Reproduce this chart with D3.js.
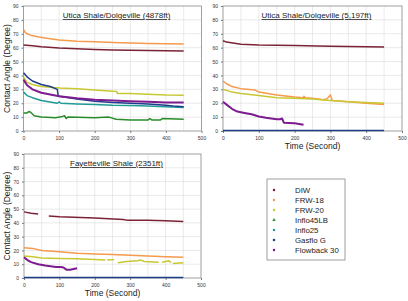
<!DOCTYPE html>
<html>
<head>
<meta charset="utf-8">
<script src="https://cdn.jsdelivr.net/npm/d3@7"></script>
<style>
body{margin:0;background:#fff;}
svg{display:block;font-family:"Liberation Sans",Arial,sans-serif;}
</style>
</head>
<body>
<svg id="chart" width="408" height="301"></svg>
<script>
// series names and colors
var seriesNames = ["DIW", "FRW-18", "FRW-20", "Inflo45LB", "Inflo25", "Gasflo G", "Flowback 30"];
var seriesColors = ["#7b2335", "#f59a4e", "#c8c832", "#2a8c2a", "#1f9a96", "#1f3d8c", "#7d1c8f"];
var seriesShapes = ["circle", "circle", "circle", "triangle", "square", "square", "circle"];

var xTicks = [0, 100, 200, 300, 400, 500];
var yTicks = [0, 10, 20, 30, 40, 50, 60, 70, 80, 90];

// [time, angle], null = gap
var utica4878 = {
	"DIW": [[0,62],[25,61.3],[50,60.7],[100,59.8],[150,59.2],[200,58.7],[250,58.4],[300,58.2],[350,58],[400,57.8],[450,57.6]],
	"FRW-18": [[0,73],[5,71],[10,70],[20,69],[40,67.8],[60,67],[100,65.5],[150,64.6],[200,64.3],[250,63.8],[300,63.3],[350,63],[400,62.8],[450,62.6]],
	"FRW-20": [[0,39],[10,35],[25,33.5],[50,32],[100,31],[150,30.5],[200,29.5],[262,28.5],[264,27],[300,27],[350,26.5],[400,26],[450,25.8]],
	"Inflo45LB": [[0,13],[10,13],[15,14],[20,13.5],[30,11],[50,10],[90,9.5],[110,10.5],[115,11],[120,9],[125,10],[200,9.5],[240,10],[260,8.5],[300,8],[350,8],[355,9],[360,8],[385,8],[390,9],[450,8.5]],
	"Inflo25": [[0,28],[10,25.5],[25,24],[50,22],[95,20],[100,21],[105,20],[150,19.5],[200,19],[250,18.5],[300,18.3],[350,18],[400,17.5],[450,17]],
	"Gasflo G": [[0,42],[10,39],[25,36],[50,33.5],[75,32],[95,30],[97,26],[100,25],[150,23],[200,21.5],[250,20.5],[300,20],[350,19.5],[400,18.5],[420,18],[450,17.5]],
	"Flowback 30": [[0,37],[10,33],[25,30],[50,27.5],[100,25],[150,23.5],[200,22.5],[250,22],[300,21.5],[350,21],[400,20.5],[450,20.5]]
};

var utica5197 = {
	"DIW": [[0,65],[10,64],[50,62.5],[100,62],[150,61.8],[200,61.5],[300,61],[400,60.7],[450,60.5]],
	"FRW-18": [[0,36],[10,34],[25,32],[50,30.5],[90,29.5],[100,28],[150,26],[200,24.5],[225,24],[226,25],[230,24],[250,23.5],[280,22.5],[290,23],[300,26],[305,22],[350,21],[400,20],[450,19]],
	"FRW-20": [[0,30],[25,28],[50,27],[100,25.5],[150,24],[200,23.5],[250,23],[300,22],[350,21],[400,20.5],[450,20]],
	"Gasflo G": [[0,0.3],[450,0.3]],
	"Flowback 30": [[0,21],[10,19],[25,16],[40,14],[60,13],[80,12],[100,10.5],[120,9.5],[150,8.5],[160,8.5],[165,9],[170,6],[200,5.5],[225,4.5]]
};

var fayetteville = {
	"DIW": [[0,48],[20,47],[40,46.5],null,[70,45],[100,44.5],[200,43.5],[280,42.5],[290,42],[350,42],[400,41.5],[450,41]],
	"FRW-18": [[0,22],[25,21.5],[50,20],[100,19],[150,18],[200,17.5],[250,17],[300,16.5],[350,16],[400,15.5],[450,15]],
	"FRW-20": [[0,16],[25,15.5],[50,14.5],[100,14.2],[150,14],[200,13.5],[230,13],null,[235,13],[255,13.5],null,[265,11],[290,12],[320,12.5],[330,13],[340,12],[380,11.5],null,[390,11.5],[400,12],[410,12.5],[415,11],null,[420,10.5],[450,11]],
	"Gasflo G": [[0,0.3],[450,0.3]],
	"Flowback 30": [[0,15],[10,13],[20,11.5],[40,10],[60,9],[90,8],[100,8],[110,7.8],[115,7],[120,6],[130,6],[150,7]]
};

var svg = d3.select("#chart");

function drawPanel(data, title, box, showXLabel, showYLabel){
	var x = d3.scaleLinear().domain([0, 500]).range([box.x0, box.x1]);
	var y = d3.scaleLinear().domain([0, 90]).range([box.y1, box.y0]);
	var g = svg.append("g");

	// grid
	g.selectAll(".vg").data(d3.range(50, 500, 50)).enter().append("line")
		.attr("x1", function(d){ return x(d); }).attr("x2", function(d){ return x(d); })
		.attr("y1", box.y0).attr("y2", box.y1)
		.attr("stroke", "#dcdcdc").attr("stroke-width", 0.6);
	g.selectAll(".hg").data(d3.range(10, 90, 10)).enter().append("line")
		.attr("y1", function(d){ return y(d); }).attr("y2", function(d){ return y(d); })
		.attr("x1", box.x0).attr("x2", box.x1)
		.attr("stroke", "#dcdcdc").attr("stroke-width", 0.6);

	// axes
	var xAxis = d3.axisBottom(x).tickValues(xTicks).tickSize(2).tickPadding(3);
	var yAxis = d3.axisLeft(y).tickValues(yTicks).tickSize(2).tickPadding(3);
	var gx = g.append("g").attr("transform", "translate(0," + box.y1 + ")").call(xAxis);
	var gy = g.append("g").attr("transform", "translate(" + box.x0 + ",0)").call(yAxis);
	[gx, gy].forEach(function(a){
		a.select(".domain").remove();
		a.selectAll("line").attr("stroke", "#777");
		a.selectAll("text").attr("font-size", 5).attr("fill", "#333");
	});

	// frame
	g.append("rect").attr("x", box.x0).attr("y", box.y0)
		.attr("width", box.x1 - box.x0).attr("height", box.y1 - box.y0)
		.attr("fill", "none").attr("stroke", "#888").attr("stroke-width", 0.8);

	var line = d3.line()
		.defined(function(d){ return d !== null; })
		.x(function(d){ return x(d[0]); })
		.y(function(d){ return y(d[1]); });

	seriesNames.forEach(function(name, i){
		if (!data[name]) return;
		g.append("path").attr("d", line(data[name]))
			.attr("fill", "none")
			.attr("stroke", seriesColors[i])
			.attr("stroke-width", name == "Flowback 30" ? 2 : 1.5)
			.attr("stroke-linejoin", "round");
	});

	var cx = (box.x0 + box.x1) / 2;
	g.append("text").attr("x", cx + 4).attr("y", box.y0 + 12)
		.attr("text-anchor", "middle").attr("font-size", 8).attr("fill", "#222")
		.attr("text-decoration", "underline")
		.text(title);

	if (showXLabel) {
		g.append("text").attr("x", cx).attr("y", box.y1 + 18)
			.attr("text-anchor", "middle").attr("font-size", 8.5).attr("fill", "#222")
			.text("Time (Second)");
	}
	if (showYLabel) {
		g.append("text")
			.attr("transform", "translate(10," + ((box.y0 + box.y1) / 2) + ") rotate(-90)")
			.attr("text-anchor", "middle").attr("font-size", 8.5).attr("fill", "#222")
			.text("Contact Angle (Degree)");
	}
}

drawPanel(utica4878, "Utica Shale/Dolgeville (4878ft)", {x0: 23.5, x1: 201.5, y0: 6, y1: 131}, false, true);
drawPanel(utica5197, "Utica Shale/Dolgeville (5,197ft)", {x0: 223, x1: 402, y0: 6, y1: 131}, true, false);
drawPanel(fayetteville, "Fayetteville Shale (2351ft)", {x0: 24, x1: 201, y0: 154, y1: 278}, true, true);

// legend
var legend = svg.append("g");
legend.append("rect").attr("x", 267).attr("y", 179).attr("width", 78).attr("height", 81)
	.attr("fill", "#fff").attr("stroke", "#888").attr("stroke-width", 0.8);
seriesNames.forEach(function(name, i){
	var ly = 190 + i * 10;
	var shape = seriesShapes[i] == "triangle" ? d3.symbolTriangle : (seriesShapes[i] == "square" ? d3.symbolSquare : d3.symbolCircle);
	legend.append("path").attr("d", d3.symbol().type(shape).size(5)())
		.attr("transform", "translate(274," + ly + ")")
		.attr("fill", seriesColors[i]);
	legend.append("text").attr("x", 295).attr("y", ly + 2.7)
		.attr("font-size", 7.8).attr("fill", "#222").text(name);
});
</script>
</body>
</html>
